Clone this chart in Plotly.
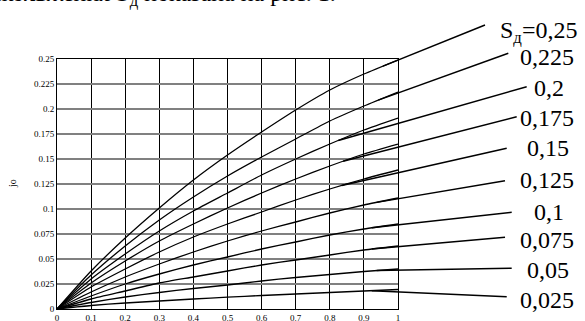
import numpy as np
import plotly.graph_objects as go

# ---- data ----
x_vals = [0.0, 0.1, 0.2, 0.3, 0.4, 0.5, 0.6, 0.7, 0.8, 0.9, 1.0]

s_labels = ["0,025", "0,05", "0,075", "0,1", "0,125",
            "0,15", "0,175", "0,2", "0,225", "S<sub>д</sub>=0,25"]

jo_0025 = [0, 0.0035, 0.006, 0.008, 0.010, 0.0118, 0.0135, 0.015, 0.0165, 0.018, 0.0195]
jo_0050 = [0, 0.0065, 0.012, 0.0165, 0.0205, 0.024, 0.028, 0.0315, 0.0345, 0.0375, 0.040]
jo_0075 = [0, 0.010, 0.018, 0.026, 0.032, 0.038, 0.044, 0.049, 0.054, 0.059, 0.063]
jo_0100 = [0, 0.013, 0.025, 0.035, 0.044, 0.052, 0.060, 0.067, 0.074, 0.080, 0.085]
jo_0125 = [0, 0.017, 0.032, 0.045, 0.057, 0.068, 0.078, 0.087, 0.096, 0.104, 0.111]
jo_0150 = [0, 0.022, 0.040, 0.057, 0.072, 0.085, 0.097, 0.109, 0.120, 0.130, 0.139]
jo_0175 = [0, 0.026, 0.048, 0.068, 0.085, 0.101, 0.116, 0.130, 0.143, 0.155, 0.165]
jo_0200 = [0, 0.030, 0.055, 0.078, 0.098, 0.116, 0.134, 0.150, 0.165, 0.179, 0.191]
jo_0225 = [0, 0.034, 0.063, 0.089, 0.112, 0.133, 0.152, 0.170, 0.188, 0.203, 0.217]
jo_0250 = [0, 0.038, 0.071, 0.101, 0.129, 0.154, 0.177, 0.199, 0.219, 0.235, 0.249]

curves = [jo_0025, jo_0050, jo_0075, jo_0100, jo_0125,
          jo_0150, jo_0175, jo_0200, jo_0225, jo_0250]

# where each leader line leaves its curve (x value)
leader_x = [0.923, 0.9375, 0.923, 0.923, 0.9375, 0.835, 0.839, 0.825, 0.942, 0.956]

# ---- layout geometry (figure pixels) ----
W, H = 585, 321
ML, MR, MT, MB = 57, 187, 59, 12
PW, PH = W - ML - MR, H - MT - MB
YMAX = 0.25


def px2paper(px, py):
    return (px - ML) / PW, (H - MB - py) / PH


# label anchor (left edge, vertical centre) and leader end, in figure pixels
label_pos = [(518, 300), (525, 270), (518, 240), (532, 212), (518, 180),
             (525, 148), (518, 118), (532, 88), (518, 57), (498, 32)]
leader_end = [(506.7, 296.7), (511.7, 268.3), (505, 237.3), (511.7, 212.3), (505, 180.7),
              (506.7, 148.3), (516.7, 116.7), (526.7, 86.7), (508.3, 53.3), (485, 25)]

SERIF = "Liberation Serif, Times New Roman, serif"

fig = go.Figure()
for lab, ys in zip(s_labels, curves):
    fig.add_trace(go.Scatter(x=x_vals, y=ys, mode="lines", name=lab,
                             line=dict(color="black", width=1.3, shape="spline", smoothing=0.6),
                             showlegend=False, hoverinfo="skip"))

shapes = []
annotations = []
for lab, ys, lx, lp, le in zip(s_labels, curves, leader_x, label_pos, leader_end):
    sy = float(np.interp(lx, x_vals, ys))
    ex, ey = px2paper(*le)
    shapes.append(dict(type="line", xref="paper", yref="paper",
                       x0=lx, y0=sy / YMAX, x1=ex, y1=ey,
                       line=dict(color="black", width=1.5)))
    ax_, ay_ = px2paper(*lp)
    annotations.append(dict(text=lab, xref="paper", yref="paper", x=ax_, y=ay_,
                            xanchor="left", yanchor="middle", showarrow=False,
                            font=dict(family=SERIF, size=24, color="black")))

# y axis title
tx, ty = px2paper(12, 184)
annotations.append(dict(text="jo", xref="paper", yref="paper", x=tx, y=ty,
                        xanchor="center", yanchor="middle", showarrow=False, textangle=-90,
                        font=dict(family=SERIF, size=10, color="black")))

# text of the page above the figure (cut at the top)
hx, hy = px2paper(-11, 12)
annotations.append(dict(text="скольжения S<sub>д</sub> показана на рис. 1.",
                        xref="paper", yref="paper", x=hx, y=hy,
                        xanchor="left", yanchor="bottom", showarrow=False,
                        font=dict(family=SERIF, size=24, color="black")))

fig.update_layout(
    width=W, height=H,
    margin=dict(l=ML, r=MR, t=MT, b=MB, pad=0, autoexpand=False),
    paper_bgcolor="white", plot_bgcolor="white",
    shapes=shapes, annotations=annotations,
    xaxis=dict(range=[0, 1], dtick=0.1, tick0=0, showgrid=True, gridcolor="black", gridwidth=1,
               showline=True, linecolor="black", linewidth=1, mirror=True, zeroline=False,
               automargin=False,
               ticks="", tickfont=dict(family=SERIF, size=9, color="black"), fixedrange=True),
    yaxis=dict(range=[0, YMAX], dtick=0.025, tick0=0, showgrid=True, gridcolor="#808080", gridwidth=1.5,
               showline=True, linecolor="black", linewidth=1, mirror=True, zeroline=False,
               automargin=False, ticks="", ticklabelstandoff=0,
               tickfont=dict(family=SERIF, size=9, color="black"), fixedrange=True),
)

fig.write_html("out.html", config={"displayModeBar": False},
               post_script="document.body.style.margin='0';document.body.style.overflow='hidden';")
